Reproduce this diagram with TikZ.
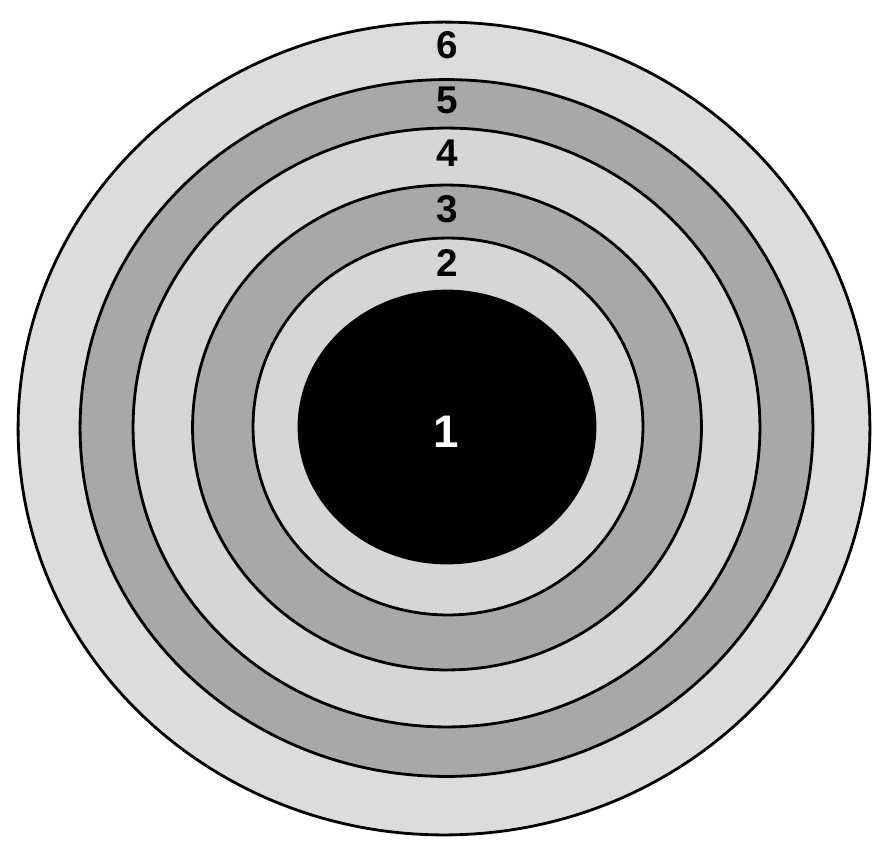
\documentclass[tikz,border=0pt]{standalone}
\usepackage{fontspec}
\setsansfont{Liberation Sans}
\usepackage{tikz}
\usetikzlibrary{shapes.geometric,positioning}
\definecolor{RingLight}{HTML}{D6D6D6}
\definecolor{RingDark}{HTML}{A8A8A8}
\definecolor{OuterLight}{HTML}{DCDCDC}
\tikzset{
  % Base ring
  RG/.style={ellipse,draw=black,line width=1.6pt,inner sep=0pt,outer sep=0pt},
  % Colour variants
  rL/.style={RG,fill=RingLight},
  rD/.style={RG,fill=RingDark},
  rK/.style={RG,fill=black},
  % Ring numbers
  NR/.style={font=\sffamily\bfseries\fontsize{22}{22}\selectfont,text=black,inner sep=0pt},
  NW/.style={font=\sffamily\bfseries\fontsize{26}{26}\selectfont,text=white,inner sep=0pt}
}
\begin{document}
\begin{tikzpicture}[x=0.02cm,y=-0.02cm]
  \useasboundingbox (0,0) rectangle (876,843);
  \fill[white] (0,0) rectangle (876,843);

  \node[RG,fill=OuterLight,minimum width=17.04cm,minimum height=16.26cm] (r6) at (444,428.5) {};
  \node[rD,minimum width=14.66cm,minimum height=13.94cm] (r5) at (446.5,428) {};
  \node[rL,minimum width=12.54cm,minimum height=11.98cm] (r4) at (446.5,427.5) {};
  \node[rD,minimum width=10.18cm,minimum height=9.70cm]  (r3) at (447,427.5) {};
  \node[rL,minimum width=7.80cm,minimum height=7.54cm]   (r2) at (448,426.5) {};
  \node[rK,minimum width=5.92cm,minimum height=5.44cm]   (r1) at (447,427) {};

  \node[NR] (n6) at (447,45)  {6};
  \node[NR] (n5) at (447,100) {5};
  \node[NR] (n4) at (447,153) {4};
  \node[NR] (n3) at (447,209) {3};
  \node[NR] (n2) at (447,263) {2};
  \node[NW] (n1) at (446,432) {1};
\end{tikzpicture}
\end{document}
